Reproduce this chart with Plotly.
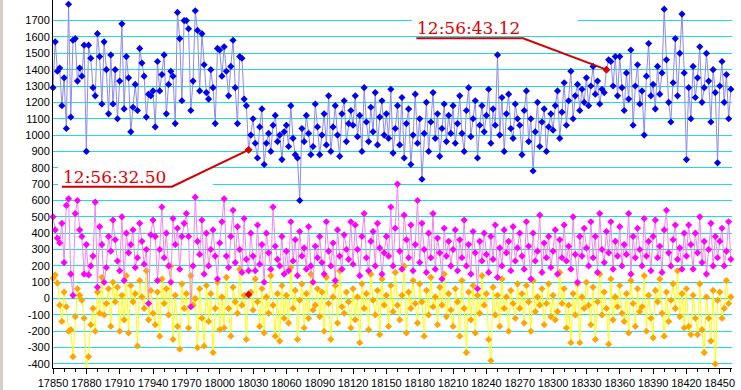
import plotly.graph_objects as go

# ---------------- data ----------------
blue = [
    1290,1570,1390,1410,1180,1350,1040,1800,1110,1580,1590,1330,1410,1360,1550,
    900,1550,1470,1290,1240,1620,1480,1190,1570,1400,1130,1490,1190,1400,1100,
    1330,1680,1160,1480,1350,1020,1170,1310,1150,1530,1440,1360,1110,1250,1240,
    1270,1050,1450,1270,1370,1490,1130,1310,1390,1360,1070,1750,1590,1210,1700,
    1700,1650,1150,1330,1760,1640,1270,1620,1430,1260,1220,1400,1290,1070,1530,
    1520,1360,1540,1390,1240,1420,1580,1290,1070,1480,1470,1220,1180,910,1000,
    1100,950,860,1050,1160,820,950,1010,900,1060,1120,960,1000,850,1020,
    1060,930,1180,980,880,860,600,1040,960,1120,1010,880,930,1190,1050,
    880,1000,1130,940,1240,900,1050,1180,1000,870,1130,1210,960,1070,1150,
    1060,1240,990,1120,900,1290,1080,960,1170,1020,1260,940,1110,1210,1000,
    1130,980,1280,890,1040,1180,940,1230,860,1070,1160,820,1000,1250,950,
    1100,730,1010,1200,900,1080,1260,980,1130,870,1040,1190,960,1120,1010,
    1180,950,1070,1240,1010,900,1150,1290,990,1100,1210,860,1060,1180,1020,
    1120,1280,950,1160,1060,1490,1000,1230,900,1130,1250,1040,980,1190,1100,
    1060,880,1150,1270,960,1100,780,1020,1200,930,1080,1160,900,1050,1130,
    1030,1180,1270,980,1140,1320,1060,1210,1390,1100,1240,1310,1150,1280,1200,
    1350,1180,1300,1420,1250,1330,1190,1280,1260,1400,1460,1450,1300,1480,1240,
    1480,1290,1150,1380,1220,1520,1060,1300,1430,1190,1270,1000,1360,1560,1240,
    1310,1160,1420,1250,1380,1770,1460,1200,1080,1320,1590,1240,1500,1740,1380,
    850,1290,1100,1420,1230,1350,1540,1200,1290,1500,1330,1080,1400,1260,830,
    1300,1450,1200,1370,1100,1280,
]

magenta = [
    500,420,370,340,460,220,570,610,150,20,520,600,420,380,150,
    330,145,200,260,590,70,440,330,100,190,380,290,480,360,230,
    170,500,110,400,280,330,420,190,250,460,350,210,300,-30,390,
    480,380,110,300,560,250,400,200,100,490,330,430,180,380,460,
    520,380,-50,200,620,350,270,480,150,400,200,300,420,260,120,
    340,470,610,260,190,380,540,220,440,300,160,490,240,170,400,
    260,170,450,210,330,100,400,280,180,560,320,240,200,380,150,
    290,170,470,230,360,140,410,260,310,180,440,200,100,320,250,
    380,220,150,470,290,200,340,110,420,260,180,390,300,240,470,
    210,450,300,140,380,520,250,170,350,410,200,460,310,150,280,
    380,260,560,200,430,700,290,180,510,360,250,450,170,330,600,
    220,460,300,160,400,250,520,180,370,280,120,430,260,350,200,
    300,420,170,360,250,480,200,330,150,410,280,60,350,230,400,
    270,160,380,240,450,130,310,200,420,280,350,170,440,230,310,
    400,260,180,470,320,120,400,230,290,510,160,340,250,380,190,
    290,420,150,360,250,450,230,320,180,500,270,100,380,260,430,
    310,200,470,250,380,160,520,300,220,410,280,470,180,350,260,
    440,200,330,270,520,150,380,250,430,300,200,490,260,350,170,
    380,480,250,320,160,420,540,280,200,360,450,240,310,180,400,
    260,450,330,180,400,280,500,220,350,150,300,460,200,380,250,
    350,430,200,290,470,240,
]

orange = [
    125,145,95,-40,-140,40,-50,-200,-190,-355,-110,60,20,-10,-120,
    -425,-355,-160,-60,-200,40,-90,130,-100,-30,60,-170,100,-20,70,
    -200,20,-130,140,-210,80,-20,30,-290,110,10,-60,170,-130,50,
    -90,-160,40,-230,120,-30,60,-100,200,-250,20,-170,-310,90,-60,
    30,-180,140,-40,0,-300,60,-120,-290,80,-140,30,-330,-60,100,
    -190,10,-180,130,-60,-230,70,-20,-90,180,-40,20,-250,25,40,
    -70,120,-20,-170,60,-210,10,-90,140,-40,-230,30,-260,80,-120,
    20,-150,190,-60,50,-250,-10,90,-180,30,-120,150,-70,-40,60,
    -110,40,-200,130,-30,-250,10,80,-150,170,-50,-90,40,-20,-180,
    60,-130,10,-270,90,-60,30,-190,150,-10,-100,50,-220,120,-40,
    20,-170,80,-80,160,-40,-130,20,200,-210,40,-60,110,-30,-150,
    90,-20,-230,50,-100,130,-50,10,-160,70,-40,150,-110,30,-70,
    -170,60,-20,-230,110,-60,-330,40,-130,80,-210,20,-90,140,-40,
    30,-250,-380,70,-100,20,-170,120,-60,10,-200,50,-30,-120,90,
    -60,30,-150,80,-20,-200,110,-80,10,-40,60,-160,-30,90,-110,
    20,-130,-80,160,-30,60,-180,-40,-270,30,-100,90,-270,10,-60,
    100,-40,-160,70,-250,-20,150,-100,40,-60,-280,120,-130,10,-50,
    80,-90,-140,30,-210,110,-30,-170,60,-80,-50,140,-200,20,-120,
    -240,50,-20,120,-90,-230,40,-140,-10,90,-60,170,-110,30,-180,
    60,-170,-220,20,-120,-220,90,-190,-330,10,-120,-260,50,-400,-10,
    40,-120,-60,110,-30,10,
]

x_start = 17850
x_step = 2
x = list(range(x_start, x_start + x_step * len(blue), x_step))

x_tick_vals = list(range(17850, 18451, 30))
x_tick_text = [str(v) for v in x_tick_vals]
y_tick_vals = list(range(-400, 1701, 100))
y_tick_text = [str(v) for v in y_tick_vals]

label_texts = ["12:56:32.50", "12:56:43.12"]
label_x = [18026, 18348]

# ---------------- figure ----------------
fig = go.Figure()

series = [
    (orange, "#FFFF00", "#FFA500"),
    (magenta, "#EE88EE", "#FF00FF"),
    (blue, "#8C8CE8", "#0000EE"),
]
for vals, lc, mc in series:
    fig.add_trace(go.Scatter(
        x=x, y=vals, mode="lines+markers",
        line=dict(color=lc, width=1),
        marker=dict(symbol="diamond", size=5.5, color=mc, line=dict(width=0)),
        hoverinfo="skip", cliponaxis=False,
    ))

i1 = x.index(label_x[0])
i2 = x.index(label_x[1])
fig.add_trace(go.Scatter(
    x=[label_x[0], label_x[0], label_x[1]],
    y=[blue[i1], orange[i1], blue[i2]],
    mode="markers",
    marker=dict(symbol="diamond", size=6, color="#E80000"),
    hoverinfo="skip", cliponaxis=False,
))

tickfont = dict(family="Liberation Sans, Arial", size=11, color="black")

fig.update_layout(
    width=741, height=390,
    margin=dict(l=53, r=9, t=0, b=22),
    paper_bgcolor="white", plot_bgcolor="white",
    showlegend=False,
    xaxis=dict(
        range=[17850, 18461], tickmode="array",
        tickvals=x_tick_vals, ticktext=x_tick_text, tickangle=0,
        ticks="outside", ticklen=5, tickcolor="black", tickwidth=1,
        minor=dict(dtick=10, tick0=17850, ticks="outside", ticklen=3,
                   tickcolor="black", showgrid=False),
        showline=True, linecolor="black", linewidth=1,
        showgrid=False, zeroline=False, tickfont=tickfont, automargin=False,
    ),
    yaxis=dict(
        range=[-424.5, 1826], tickmode="array",
        tickvals=y_tick_vals, ticktext=y_tick_text,
        ticks="", showline=True, linecolor="black", linewidth=1,
        showgrid=True, gridcolor="#1CDCEC", gridwidth=1,
        zeroline=False, tickfont=tickfont, automargin=False,
    ),
)

# cover the cyan grid at 0 and draw the dashed zero line
fig.add_shape(type="line", xref="paper", yref="y", x0=0, x1=1, y0=0, y1=0,
              line=dict(color="white", width=2), layer="between")
fig.add_shape(type="line", xref="paper", yref="y", x0=0, x1=1, y0=0, y1=0,
              line=dict(color="black", width=1, dash="4px,2px"), layer="between")

# white boxes behind labels (hide grid)
fig.add_shape(type="rect", xref="x", yref="y", x0=17854.5, x1=17994, y0=663, y1=829,
              fillcolor="white", line=dict(width=0), layer="between")
fig.add_shape(type="rect", xref="x", yref="y", x0=18173, x1=18322, y0=1606, y1=1790,
              fillcolor="white", line=dict(width=0), layer="between")

# leader lines (underline + diagonal to the point)
fig.add_shape(type="path", xref="x", yref="y",
              path=f"M 17858,684 L 17957,684 L {label_x[0]},{blue[i1]}",
              line=dict(color="#D00000", width=2))
fig.add_shape(type="path", xref="x", yref="y",
              path=f"M 18177,1592 L 18273,1592 L {label_x[1]},{blue[i2]}",
              line=dict(color="#D00000", width=2))

labfont = dict(family="DejaVu Serif", size=17, color="#E00000")
fig.add_annotation(x=17858, y=745, xref="x", yref="y", text=label_texts[0],
                   showarrow=False, xanchor="left", yanchor="middle",
                   font=labfont, borderpad=0)
fig.add_annotation(x=18177, y=1655, xref="x", yref="y", text=label_texts[1],
                   showarrow=False, xanchor="left", yanchor="middle",
                   font=labfont, borderpad=0)

# grey window border strip at far left
fig.add_shape(type="rect", xref="paper", yref="paper",
              x0=-53/679, x1=-50/679, y0=-22/368, y1=1,
              fillcolor="#D4D0C8", line=dict(width=0), layer="above")

fig.write_html(
    "out.html",
    config={"displayModeBar": False},
    post_script="document.body.style.margin='0';document.body.style.overflow='hidden';",
)
